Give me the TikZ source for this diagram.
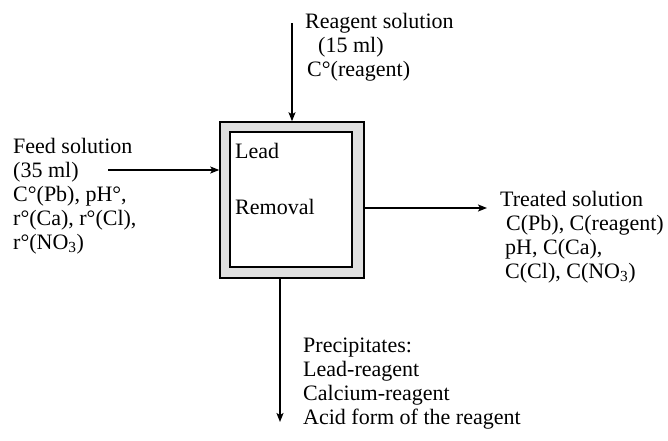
\documentclass[tikz,border=0pt]{standalone}
\usepackage{fontspec}
\setmainfont{Liberation Serif}
\usetikzlibrary{arrows.meta}
\tikzset{
  lbl/.style={anchor=base west, align=left, inner sep=0pt, font=\fontsize{22}{24}\selectfont},
  conn/.style={line width=1.3pt, -{Stealth[length=9pt,width=7pt,inset=2pt]}},
  boxline/.style={draw, line width=1.5pt, inner sep=0pt}
}
\begin{document}
\begin{tikzpicture}[x=1pt,y=1pt]
\useasboundingbox (0,0) rectangle (668,-440);
% box
\node[boxline, fill=gray!25, minimum width=144pt, minimum height=156pt] (outer) at (292,-200) {};
\node[boxline, fill=white, minimum width=122pt, minimum height=135pt] (inner) at (291,-199.5) {};
\node[lbl] (lead) at (235,-158) {Lead};
\node[lbl] (removal) at (235,-214) {Removal};
% texts (base anchor = baseline of last line)
\node[lbl] (reagent) at (305,-76) {Reagent solution\\\hspace{13pt}(15 ml)\\\hspace{2pt}C°(reagent)};
\node[lbl] (feed) at (13,-249) {Feed solution\\(35 ml)\\C°(Pb), pH°,\\r°(Ca), r°(Cl),\\r°(NO\textsubscript{3})};
\node[lbl] (treated) at (500,-278) {Treated solution\\\hspace{6pt}C(Pb), C(reagent)\\\hspace{5pt}pH, C(Ca),\\\hspace{5pt}C(Cl), C(NO\textsubscript{3})};
\node[lbl] (prec) at (303,-424) {Precipitates:\\Lead-reagent\\Calcium-reagent\\Acid form of the reagent};
% connectors
\coordinate (topstart) at (292,-23);
\coordinate (feedstart) at (108,-170);
\coordinate (treatend) at (487,-208);
\coordinate (precend) at (280,-422);
\draw[conn] (topstart) -- (outer.north);
\draw[conn] (feedstart) -- (feedstart -| outer.west);
\draw[conn] (treatend -| outer.east) -- (treatend);
\draw[conn] (precend |- outer.south) -- (precend);
\end{tikzpicture}
\end{document}
